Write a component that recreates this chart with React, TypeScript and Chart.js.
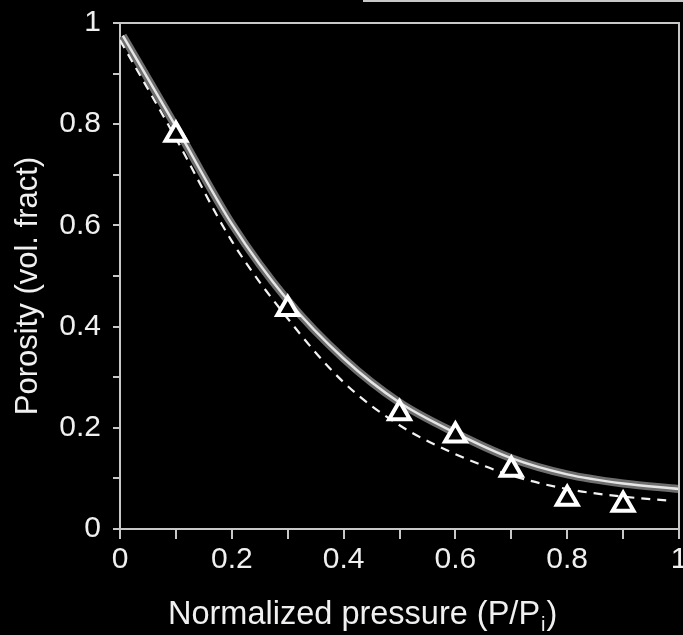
import React, { useEffect, useRef } from "react";
import { Chart, registerables } from "chart.js";
Chart.register(...registerables);

// Model curve (solid, gray band with white core)
const solidX = [0.005, 0.1, 0.2, 0.3, 0.4, 0.5, 0.6, 0.7, 0.8, 0.9, 1.0];
const solidY = [0.975, 0.795, 0.603, 0.452, 0.337, 0.25, 0.19, 0.14, 0.108, 0.09, 0.079];

// Second model curve (dashed)
const dashX = [0.0, 0.1, 0.2, 0.3, 0.4, 0.5, 0.6, 0.7, 0.8, 0.9, 0.985];
const dashY = [0.966, 0.772, 0.569, 0.416, 0.29, 0.205, 0.148, 0.106, 0.079, 0.064, 0.056];

// Measured points (open triangles)
const measX = [0.1, 0.3, 0.5, 0.6, 0.7, 0.8, 0.9];
const measY = [0.779, 0.435, 0.229, 0.185, 0.117, 0.06, 0.048];

const xTitle = "Normalized pressure (P/P";
const xTitleSub = "i";
const xTitleEnd = ")";
const yTitle = "Porosity (vol. fract)";

const FONT = "'Liberation Sans', Arial, sans-serif";
const AXIS = "#c8c8c8";
const TEXT = "#f0f0f0";

const pts = (xs: number[], ys: number[]) => xs.map((x, i) => ({ x, y: ys[i] }));
const fmt = (v: number) => {
  const k = Math.round(v * 10);
  if (k % 2 !== 0) return "";
  return String(k / 10);
};

export default function App() {
  const ref = useRef<HTMLCanvasElement>(null);
  useEffect(() => {
    document.body.style.margin = "0";
    document.body.style.background = "#000";
    const canvas = ref.current!;
    const decor = {
      id: "decor",
      afterDraw(chart: any) {
        const { ctx, chartArea: a } = chart;
        ctx.save();
        ctx.strokeStyle = AXIS;
        ctx.lineWidth = 2;
        ctx.beginPath();
        ctx.moveTo(a.left, a.top);
        ctx.lineTo(a.right, a.top);
        ctx.lineTo(a.right, a.bottom);
        ctx.stroke();
        ctx.beginPath();
        ctx.moveTo(363, 1);
        ctx.lineTo(chart.width, 1);
        ctx.stroke();
        // x title with subscript
        ctx.fillStyle = TEXT;
        ctx.textBaseline = "alphabetic";
        ctx.textAlign = "left";
        ctx.font = `32.5px ${FONT}`;
        let x = 168;
        const base = 624;
        ctx.fillText(xTitle, x, base);
        x += ctx.measureText(xTitle).width;
        ctx.font = `20px ${FONT}`;
        ctx.fillText(xTitleSub, x + 1, base + 7);
        x += ctx.measureText(xTitleSub).width + 2;
        ctx.font = `32.5px ${FONT}`;
        ctx.fillText(xTitleEnd, x, base);
        // y title
        ctx.translate(37, 286);
        ctx.rotate(-Math.PI / 2);
        ctx.textAlign = "center";
        ctx.font = `31px ${FONT}`;
        ctx.fillText(yTitle, 0, 0);
        ctx.restore();
      },
    };
    const chart = new Chart(canvas, {
      type: "line",
      data: {
        datasets: [
          {
            data: pts(measX, measY),
            showLine: false,
            pointStyle: "triangle",
            pointRadius: 12,
            pointBorderWidth: 4,
            pointBorderColor: "#ffffff",
            pointBackgroundColor: "#000000",
            order: 0,
          } as any,
          {
            data: pts(dashX, dashY),
            borderColor: "#f2f2f2",
            borderWidth: 2.2,
            borderDash: [9, 7],
            pointRadius: 0,
            cubicInterpolationMode: "monotone",
            fill: false,
            order: 1,
          },
          {
            data: pts(solidX, solidY),
            borderColor: "#e6e6e6",
            borderWidth: 2.5,
            pointRadius: 0,
            cubicInterpolationMode: "monotone",
            fill: false,
            order: 2,
          },
          {
            data: pts(solidX, solidY),
            borderColor: "#6e6e6e",
            borderWidth: 8,
            pointRadius: 0,
            cubicInterpolationMode: "monotone",
            fill: false,
            order: 3,
          },
        ],
      },
      options: {
        animation: false,
        responsive: false,
        maintainAspectRatio: false,
        layout: { autoPadding: false, padding: { left: 0, right: 4, top: 23, bottom: 0 } },
        plugins: { legend: { display: false }, tooltip: { enabled: false } },
        scales: {
          x: {
            type: "linear",
            min: 0,
            max: 1,
            ticks: {
              stepSize: 0.1,
              autoSkip: false,
              maxRotation: 0,
              color: TEXT,
              font: { family: FONT, size: 30 },
              padding: 3,
              callback: (v: any) => fmt(Number(v)),
            },
            grid: { drawOnChartArea: false, drawTicks: true, tickLength: 10, color: AXIS, lineWidth: 2 },
            border: { display: true, color: AXIS, width: 2 },
            afterFit: (s: any) => {
              s.height = 106;
              s.paddingLeft = 0;
              s.paddingRight = 0;
            },
          },
          y: {
            type: "linear",
            min: 0,
            max: 1,
            ticks: {
              stepSize: 0.1,
              autoSkip: false,
              color: TEXT,
              font: { family: FONT, size: 30 },
              padding: 12,
              callback: (v: any) => fmt(Number(v)),
            },
            grid: { drawOnChartArea: false, drawTicks: true, tickLength: 7, color: AXIS, lineWidth: 2 },
            border: { display: true, color: AXIS, width: 2 },
            afterFit: (s: any) => {
              s.width = 120;
              s.paddingTop = 0;
              s.paddingBottom = 0;
            },
          },
        },
      },
      plugins: [decor],
    });
    return () => chart.destroy();
  }, []);
  return (
    <div style={{ width: 683, height: 635, background: "#000" }}>
      <canvas ref={ref} width={683} height={635} style={{ display: "block" }} />
    </div>
  );
}
